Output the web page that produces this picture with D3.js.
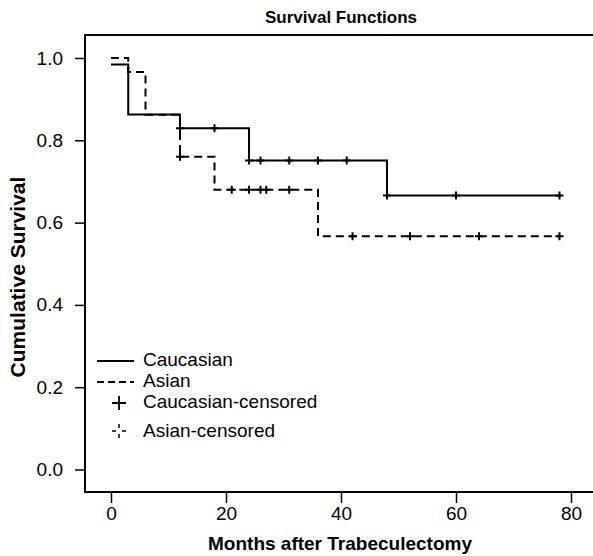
<!DOCTYPE html>
<html>
<head>
<meta charset="utf-8">
<script src="https://cdn.jsdelivr.net/npm/d3@7"></script>
<style>
  body { margin: 0; background: #fff; }
  svg { display: block; font-family: "Liberation Sans", Arial, sans-serif; }
</style>
</head>
<body>
<svg width="593" height="556"></svg>
<script>
// step times (months) and survival level after each step
var caucTimes = [0, 3, 12, 24, 48]
var caucSurv = [0.984, 0.863, 0.829, 0.751, 0.666]
var caucCensored = [12, 18, 24, 26, 31, 36, 41, 48, 60, 78]

var asianTimes = [0, 3, 6, 12, 18, 36]
var asianSurv = [1.0, 0.966, 0.862, 0.760, 0.680, 0.567]
var asianCensored = [12, 21, 24, 26, 27, 31, 42, 52, 64, 78]

var lastTime = 78
var xTicks = [0, 20, 40, 60, 80]
var yTicks = [0.0, 0.2, 0.4, 0.6, 0.8, 1.0]
var legendLabels = ["Caucasian", "Asian", "Caucasian-censored", "Asian-censored"]

var svg = d3.select("svg")

var x = d3.scaleLinear().domain([0, 80]).range([111, 571])
var y = d3.scaleLinear().domain([0, 1]).range([469.5, 58])

// frame (right side runs off the page like the original)
svg.append("path")
    .attr("d", "M600,35 H85 V492 H600")
    .attr("fill", "none")
    .attr("stroke", "#000")
    .attr("stroke-width", 2)

// axes
var xAxis = svg.append("g")
    .attr("transform", "translate(0,492)")
    .call(d3.axisBottom(x).tickValues(xTicks).tickSize(11).tickPadding(4).tickFormat(d3.format("d")))
xAxis.select(".domain").remove()
xAxis.selectAll("line").attr("stroke-width", 1.5)
xAxis.selectAll("text").attr("font-size", 19).attr("font-family", "Liberation Sans, Arial, sans-serif")

var yAxis = svg.append("g")
    .attr("transform", "translate(85,0)")
    .call(d3.axisLeft(y).tickValues(yTicks).tickSize(10).tickPadding(12).tickFormat(d3.format(".1f")))
yAxis.select(".domain").remove()
yAxis.selectAll("line").attr("stroke-width", 1.5)
yAxis.selectAll("text").attr("font-size", 19).attr("font-family", "Liberation Sans, Arial, sans-serif")

// titles
svg.append("text")
    .attr("x", 341).attr("y", 23)
    .attr("text-anchor", "middle")
    .attr("font-weight", "bold").attr("font-size", 17)
    .text("Survival Functions")

svg.append("text")
    .attr("x", 340).attr("y", 550)
    .attr("text-anchor", "middle")
    .attr("font-weight", "bold").attr("font-size", 19)
    .text("Months after Trabeculectomy")

svg.append("text")
    .attr("transform", "translate(25,277) rotate(-90)")
    .attr("text-anchor", "middle")
    .attr("font-weight", "bold").attr("font-size", 21)
    .text("Cumulative Survival")

// survival curves
function stepPoints(times, surv) {
    var pts = times.map(function (t, i) { return [t, surv[i]] })
    pts.push([lastTime, surv[surv.length - 1]])
    return pts
}

function levelAt(times, surv, t) {
    var i = d3.bisectRight(times, t) - 1
    return surv[Math.max(i, 0)]
}

var line = d3.line()
    .x(function (d) { return x(d[0]) })
    .y(function (d) { return y(d[1]) })
    .curve(d3.curveStepAfter)

svg.append("path")
    .datum(stepPoints(asianTimes, asianSurv))
    .attr("d", line)
    .attr("fill", "none")
    .attr("stroke", "#000")
    .attr("stroke-width", 2)
    .attr("stroke-dasharray", "8,5")

svg.append("path")
    .datum(stepPoints(caucTimes, caucSurv))
    .attr("d", line)
    .attr("fill", "none")
    .attr("stroke", "#000")
    .attr("stroke-width", 2)

// censor marks
function plus(cx, cy, r) {
    return "M" + (cx - r) + "," + cy + "H" + (cx + r) + "M" + cx + "," + (cy - r) + "V" + (cy + r)
}

svg.append("g").selectAll("path")
    .data(caucCensored)
    .enter().append("path")
    .attr("d", function (t) { return plus(x(t), y(levelAt(caucTimes, caucSurv, t)), 4) })
    .attr("stroke", "#000")
    .attr("stroke-width", 2)

svg.append("g").selectAll("path")
    .data(asianCensored)
    .enter().append("path")
    .attr("d", function (t) { return plus(x(t), y(levelAt(asianTimes, asianSurv, t)), 4) })
    .attr("stroke", "#000")
    .attr("stroke-width", 2)

// legend
var legend = svg.append("g")
var textX = 143
var baselines = [366, 387, 408, 437]

legend.append("line")
    .attr("x1", 97).attr("x2", 134).attr("y1", 361).attr("y2", 361)
    .attr("stroke", "#000").attr("stroke-width", 2)

legend.append("line")
    .attr("x1", 97).attr("x2", 134).attr("y1", 382).attr("y2", 382)
    .attr("stroke", "#000").attr("stroke-width", 2)
    .attr("stroke-dasharray", "7,4")

legend.append("path")
    .attr("d", plus(119, 403, 7))
    .attr("stroke", "#000").attr("stroke-width", 1.8)

legend.append("path")
    .attr("d", "M112,431H116M122,431H126M119,424V428M119,434V438")
    .attr("stroke", "#000").attr("stroke-width", 1.5)

legend.selectAll("text")
    .data(legendLabels)
    .enter().append("text")
    .attr("x", textX)
    .attr("y", function (d, i) { return baselines[i] })
    .attr("font-size", 19)
    .text(function (d) { return d })
</script>
</body>
</html>
